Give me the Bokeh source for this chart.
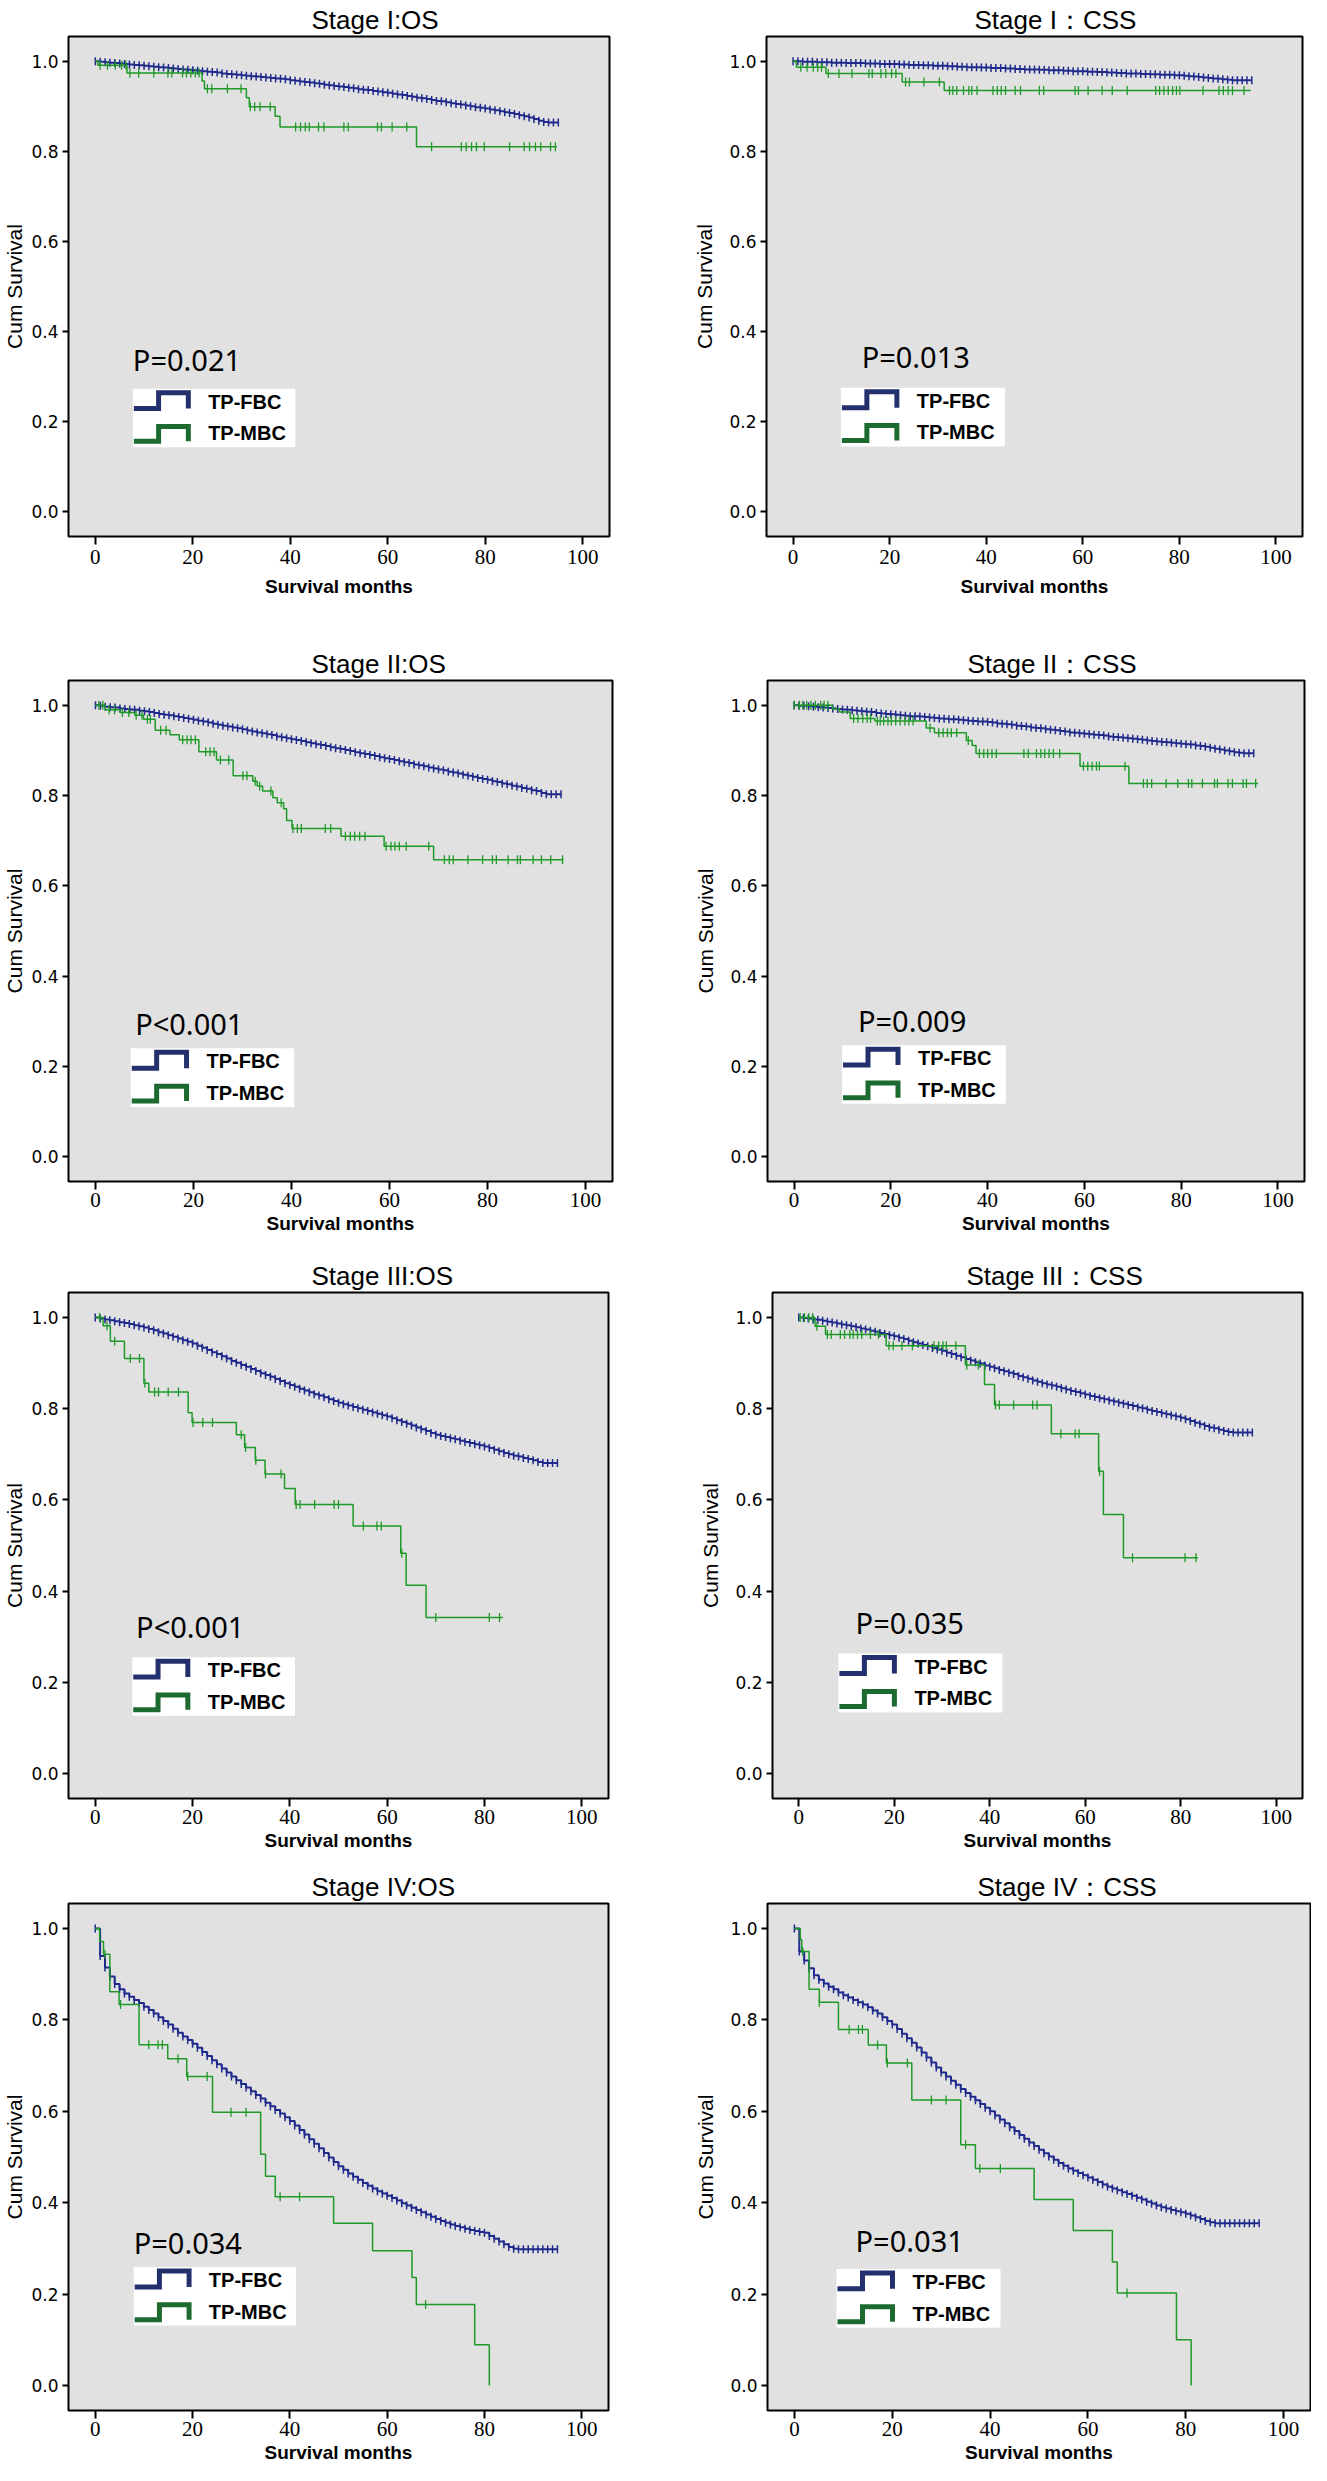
import numpy as np
from bokeh.plotting import figure
from bokeh.layouts import column, row
from bokeh.models import Range1d, Label, BoxAnnotation, FixedTicker, PrintfTickFormatter
from bokeh.embed import file_html
from bokeh.resources import INLINE

# ---------------- data ----------------
GROUPS = ["TP-FBC", "TP-MBC"]
X_TICKS = [0, 20, 40, 60, 80, 100]
Y_TICKS = [0.0, 0.2, 0.4, 0.6, 0.8, 1.0]
TITLES = ["Stage I:OS", "Stage I\uff1aCSS", "Stage II:OS", "Stage II\uff1aCSS",
          "Stage III:OS", "Stage III\uff1aCSS", "Stage IV:OS", "Stage IV\uff1aCSS"]
P_TEXTS = ["P=0.021", "P=0.013", "P<0.001", "P=0.009",
           "P<0.001", "P=0.035", "P=0.034", "P=0.031"]

# follow-up months at which the TP-FBC curve is read (one censor mark each)
FBC_MONTHS = [0, 1, 2, 3, 4, 5, 6, 7, 8, 9,
              10, 11, 12, 13, 14, 15, 16, 17, 18, 19,
              20, 21, 22, 23, 24, 25, 26, 27, 28, 29,
              30, 31, 32, 33, 34, 35, 36, 37, 38, 39,
              40, 41, 42, 43, 44, 45, 46, 47, 48, 49,
              50, 51, 52, 53, 54, 55, 56, 57, 58, 59,
              60, 61, 62, 63, 64, 65, 66, 67, 68, 69,
              70, 71, 72, 73, 74, 75, 76, 77, 78, 79,
              80, 81, 82, 83, 84, 85, 86, 87, 88, 89,
              90, 91, 92, 93, 94, 95]

FBC_I_OS = [1.000, 0.999, 0.998, 0.997, 0.996, 0.995, 0.994, 0.993, 0.992, 0.991,
            0.990, 0.989, 0.988, 0.987, 0.986, 0.985, 0.984, 0.983, 0.982, 0.981,
            0.980, 0.979, 0.978, 0.977, 0.976, 0.975, 0.973, 0.972, 0.971, 0.970,
            0.969, 0.968, 0.967, 0.966, 0.965, 0.964, 0.963, 0.962, 0.961, 0.960,
            0.958, 0.957, 0.955, 0.954, 0.953, 0.951, 0.950, 0.948, 0.947, 0.945,
            0.944, 0.943, 0.941, 0.940, 0.938, 0.937, 0.936, 0.934, 0.933, 0.931,
            0.930, 0.928, 0.926, 0.925, 0.923, 0.921, 0.919, 0.918, 0.916, 0.914,
            0.912, 0.911, 0.909, 0.907, 0.905, 0.904, 0.902, 0.900, 0.898, 0.897,
            0.895, 0.893, 0.891, 0.889, 0.887, 0.885, 0.883, 0.880, 0.878, 0.875,
            0.872, 0.868, 0.865, 0.864, 0.864, 0.864]
FBC_I_CSS = [1.000, 1.000, 0.999, 0.999, 0.999, 0.998, 0.998, 0.998, 0.997, 0.997,
             0.997, 0.996, 0.996, 0.996, 0.996, 0.995, 0.995, 0.995, 0.994, 0.994,
             0.994, 0.994, 0.993, 0.993, 0.992, 0.992, 0.992, 0.991, 0.991, 0.990,
             0.990, 0.990, 0.989, 0.989, 0.988, 0.988, 0.987, 0.987, 0.987, 0.986,
             0.986, 0.985, 0.985, 0.985, 0.984, 0.984, 0.983, 0.983, 0.982, 0.982,
             0.982, 0.981, 0.981, 0.980, 0.980, 0.980, 0.979, 0.979, 0.978, 0.978,
             0.978, 0.977, 0.977, 0.976, 0.976, 0.975, 0.975, 0.974, 0.974, 0.973,
             0.973, 0.973, 0.972, 0.972, 0.971, 0.971, 0.970, 0.970, 0.970, 0.969,
             0.969, 0.968, 0.967, 0.966, 0.965, 0.964, 0.963, 0.962, 0.961, 0.960,
             0.959, 0.958, 0.958, 0.958, 0.958, 0.958]
FBC_II_OS = [1.000, 0.999, 0.997, 0.996, 0.995, 0.993, 0.992, 0.991, 0.990, 0.988,
             0.987, 0.985, 0.983, 0.981, 0.979, 0.978, 0.976, 0.974, 0.972, 0.970,
             0.968, 0.966, 0.964, 0.962, 0.959, 0.957, 0.955, 0.953, 0.951, 0.949,
             0.947, 0.944, 0.942, 0.940, 0.938, 0.936, 0.934, 0.931, 0.929, 0.927,
             0.925, 0.923, 0.921, 0.918, 0.916, 0.914, 0.912, 0.910, 0.907, 0.905,
             0.903, 0.901, 0.899, 0.896, 0.894, 0.892, 0.890, 0.888, 0.885, 0.883,
             0.881, 0.879, 0.876, 0.874, 0.872, 0.869, 0.867, 0.865, 0.862, 0.860,
             0.858, 0.856, 0.853, 0.851, 0.849, 0.846, 0.844, 0.842, 0.839, 0.837,
             0.835, 0.832, 0.830, 0.827, 0.825, 0.822, 0.820, 0.817, 0.815, 0.812,
             0.810, 0.806, 0.803, 0.803, 0.803, 0.803]
FBC_II_CSS = [1.000, 0.999, 0.999, 0.998, 0.997, 0.996, 0.995, 0.994, 0.993, 0.992,
              0.991, 0.990, 0.989, 0.988, 0.987, 0.986, 0.985, 0.983, 0.982, 0.981,
              0.980, 0.979, 0.978, 0.977, 0.976, 0.976, 0.975, 0.974, 0.973, 0.972,
              0.971, 0.970, 0.969, 0.969, 0.968, 0.967, 0.966, 0.965, 0.964, 0.964,
              0.963, 0.962, 0.960, 0.959, 0.958, 0.957, 0.955, 0.954, 0.953, 0.951,
              0.950, 0.949, 0.947, 0.946, 0.945, 0.943, 0.942, 0.940, 0.939, 0.938,
              0.937, 0.936, 0.935, 0.934, 0.933, 0.931, 0.930, 0.929, 0.928, 0.927,
              0.926, 0.925, 0.924, 0.922, 0.921, 0.920, 0.919, 0.918, 0.917, 0.916,
              0.915, 0.914, 0.913, 0.911, 0.910, 0.908, 0.906, 0.904, 0.902, 0.900,
              0.898, 0.896, 0.895, 0.894, 0.894, 0.894]
FBC_III_OS = [1.000, 0.998, 0.996, 0.994, 0.992, 0.990, 0.988, 0.986, 0.983, 0.981,
              0.978, 0.975, 0.972, 0.968, 0.965, 0.961, 0.958, 0.954, 0.950, 0.947,
              0.943, 0.938, 0.934, 0.929, 0.924, 0.920, 0.915, 0.910, 0.905, 0.901,
              0.896, 0.892, 0.887, 0.883, 0.878, 0.874, 0.870, 0.865, 0.861, 0.856,
              0.852, 0.848, 0.844, 0.840, 0.836, 0.832, 0.829, 0.825, 0.821, 0.817,
              0.813, 0.810, 0.807, 0.804, 0.801, 0.798, 0.795, 0.792, 0.789, 0.786,
              0.783, 0.779, 0.775, 0.771, 0.767, 0.763, 0.759, 0.755, 0.751, 0.747,
              0.743, 0.740, 0.738, 0.735, 0.733, 0.730, 0.727, 0.725, 0.722, 0.720,
              0.717, 0.714, 0.710, 0.707, 0.703, 0.700, 0.697, 0.695, 0.692, 0.690,
              0.687, 0.683, 0.681, 0.681, 0.681, 0.681]
FBC_III_CSS = [1.000, 0.999, 0.998, 0.996, 0.995, 0.993, 0.991, 0.989, 0.987, 0.985,
               0.983, 0.981, 0.979, 0.976, 0.974, 0.971, 0.969, 0.966, 0.964, 0.961,
               0.959, 0.956, 0.953, 0.949, 0.946, 0.943, 0.940, 0.937, 0.933, 0.930,
               0.927, 0.923, 0.920, 0.916, 0.913, 0.909, 0.906, 0.902, 0.899, 0.895,
               0.892, 0.889, 0.885, 0.882, 0.879, 0.876, 0.872, 0.869, 0.866, 0.862,
               0.859, 0.856, 0.853, 0.851, 0.848, 0.845, 0.842, 0.839, 0.837, 0.834,
               0.831, 0.828, 0.826, 0.823, 0.821, 0.818, 0.816, 0.813, 0.811, 0.808,
               0.806, 0.803, 0.801, 0.798, 0.795, 0.793, 0.790, 0.788, 0.785, 0.783,
               0.780, 0.777, 0.773, 0.769, 0.766, 0.762, 0.759, 0.757, 0.754, 0.751,
               0.749, 0.748, 0.748, 0.748, 0.748, 0.748]
FBC_IV_OS = [1.000, 0.940, 0.915, 0.895, 0.879, 0.867, 0.858, 0.851, 0.844, 0.837,
             0.829, 0.822, 0.814, 0.806, 0.798, 0.790, 0.781, 0.772, 0.764, 0.756,
             0.748, 0.739, 0.730, 0.721, 0.712, 0.703, 0.694, 0.685, 0.676, 0.668,
             0.660, 0.652, 0.644, 0.636, 0.628, 0.619, 0.611, 0.603, 0.595, 0.587,
             0.579, 0.569, 0.559, 0.549, 0.539, 0.529, 0.519, 0.509, 0.499, 0.489,
             0.480, 0.472, 0.464, 0.457, 0.450, 0.443, 0.437, 0.431, 0.425, 0.420,
             0.415, 0.410, 0.405, 0.399, 0.394, 0.389, 0.384, 0.379, 0.374, 0.369,
             0.364, 0.360, 0.356, 0.352, 0.349, 0.346, 0.343, 0.340, 0.338, 0.336,
             0.334, 0.327, 0.321, 0.315, 0.309, 0.303, 0.299, 0.298, 0.298, 0.298,
             0.298, 0.298, 0.298, 0.298, 0.298, 0.298]
FBC_IV_CSS = [1.000, 0.950, 0.930, 0.913, 0.898, 0.888, 0.880, 0.873, 0.867, 0.860,
              0.854, 0.849, 0.844, 0.839, 0.834, 0.828, 0.821, 0.814, 0.806, 0.798,
              0.790, 0.780, 0.770, 0.760, 0.750, 0.740, 0.729, 0.718, 0.707, 0.696,
              0.685, 0.676, 0.667, 0.658, 0.649, 0.640, 0.632, 0.624, 0.616, 0.608,
              0.600, 0.591, 0.582, 0.574, 0.565, 0.557, 0.548, 0.540, 0.532, 0.524,
              0.516, 0.508, 0.501, 0.494, 0.487, 0.481, 0.475, 0.470, 0.465, 0.460,
              0.455, 0.450, 0.445, 0.440, 0.435, 0.431, 0.427, 0.423, 0.419, 0.415,
              0.411, 0.407, 0.402, 0.398, 0.394, 0.390, 0.387, 0.384, 0.381, 0.379,
              0.376, 0.372, 0.368, 0.364, 0.360, 0.357, 0.355, 0.355, 0.355, 0.355,
              0.355, 0.355, 0.355, 0.355, 0.355, 0.355]

# TP-MBC: event times (months), survival after each step, censor times
MBC_I_OS_T = [0, 0.5, 6.5, 21.9, 22.4, 31.0, 31.6, 36.9, 37.9, 65.9, 94.7]
MBC_I_OS_S = [1.0, 0.991, 0.974, 0.956, 0.939, 0.919, 0.899, 0.878, 0.854, 0.810, 0.810]
MBC_I_OS_C = [1.0, 2.5, 4.1, 5.4, 6.3, 7.1, 8.9, 12.0, 14.9, 15.7, 17.9, 18.7, 19.6, 20.5,
              21.3, 23.0, 23.9, 27.1, 29.9, 31.8, 32.7, 33.8, 35.9, 41.1, 42.1, 43.1, 43.9,
              45.8, 46.9, 51.0, 51.9, 57.9, 58.7, 60.9, 63.9, 69.0, 75.1, 76.1, 77.2, 78.2,
              79.8, 85.0, 88.0, 89.1, 90.3, 91.4, 93.4, 94.4]

MBC_I_CSS_T = [0, 0.7, 6.8, 22.6, 31.3, 94.8]
MBC_I_CSS_S = [1.0, 0.987, 0.973, 0.954, 0.935, 0.935]
MBC_I_CSS_C = [1.6, 2.9, 4.2, 5.1, 5.9, 7.3, 9.5, 12.2, 15.7, 16.4, 18.2, 19.2, 20.4, 21.3,
               23.3, 24.1, 27.1, 30.3, 32.4, 33.1, 33.9, 35.3, 36.4, 37.0, 38.1, 41.4, 42.3,
               43.1, 44.0, 46.0, 47.1, 51.0, 51.9, 58.4, 59.1, 61.1, 64.0, 66.1, 69.2, 75.1,
               75.9, 76.8, 77.7, 78.6, 79.4, 80.1, 84.9, 88.2, 89.1, 90.1, 91.0, 93.4]

MBC_II_OS_T = [0, 2.0, 5.0, 8.0, 9.8, 12.2, 15.2, 17.1, 21.1, 24.7, 28.1, 32.1, 33.0, 34.1,
               36.2, 37.1, 38.4, 39.0, 40.1, 50.1, 58.9, 69.0, 95.5]
MBC_II_OS_S = [1.0, 0.990, 0.984, 0.978, 0.969, 0.945, 0.935, 0.924, 0.897, 0.879, 0.844,
               0.832, 0.821, 0.810, 0.795, 0.784, 0.771, 0.745, 0.727, 0.710, 0.688, 0.658,
               0.658]
MBC_II_OS_C = [0.7, 1.5, 2.8, 3.9, 5.5, 6.8, 8.3, 9.5, 10.6, 11.2, 13.3, 14.4, 17.8, 18.7,
               19.5, 20.4, 22.5, 23.4, 24.2, 25.5, 27.2, 30.1, 30.9, 32.6, 33.5, 35.8, 37.9,
               40.3, 41.2, 42.0, 46.9, 48.0, 51.0, 52.0, 52.9, 53.9, 55.0, 59.3, 60.3, 61.1,
               62.0, 63.4, 68.0, 71.2, 72.2, 73.0, 76.0, 79.0, 81.0, 81.8, 84.2, 86.1, 86.7,
               89.3, 91.0, 92.9, 95.3]

MBC_II_CSS_T = [0, 7.9, 9.4, 11.6, 16.7, 27.3, 29.0, 35.6, 36.8, 37.6, 59.1, 69.2, 95.9]
MBC_II_CSS_S = [1.0, 0.992, 0.985, 0.971, 0.965, 0.950, 0.939, 0.922, 0.911, 0.893, 0.865,
                0.827, 0.827]
MBC_II_CSS_C = [0.0, 1.1, 1.8, 2.6, 3.5, 4.4, 5.5, 6.2, 7.0, 12.3, 13.2, 14.2, 15.1, 15.8,
                17.2, 17.8, 18.5, 19.4, 20.1, 21.0, 21.9, 22.9, 23.7, 24.6, 28.1, 29.9, 30.8,
                31.7, 32.5, 33.6, 36.0, 38.3, 39.2, 40.0, 40.9, 41.8, 47.5, 48.4, 50.1, 51.0,
                51.8, 52.7, 53.6, 54.9, 59.8, 60.7, 61.6, 62.5, 63.1, 68.4, 72.2, 73.0, 73.9,
                76.9, 79.3, 81.5, 82.2, 84.4, 86.9, 87.5, 89.7, 90.6, 92.8, 93.5, 95.4]

MBC_III_OS_T = [0, 1.6, 3.1, 6.0, 10.0, 11.0, 19.1, 19.9, 29.0, 30.7, 32.9, 34.9, 38.9, 41.1,
                53.0, 62.8, 63.9, 68.0, 83.8]
MBC_III_OS_S = [1.0, 0.982, 0.948, 0.910, 0.856, 0.837, 0.791, 0.770, 0.743, 0.715, 0.687,
                0.657, 0.625, 0.590, 0.543, 0.483, 0.413, 0.342, 0.342]
MBC_III_OS_C = [0.9, 2.4, 4.0, 7.2, 9.1, 10.2, 12.2, 13.0, 15.0, 17.1, 20.1, 22.1, 24.1, 30.0,
                30.9, 33.0, 35.0, 38.2, 41.3, 42.1, 45.1, 49.1, 50.0, 55.1, 57.9, 58.8, 63.0,
                70.0, 81.0, 83.1]

MBC_III_CSS_T = [0, 3.4, 5.6, 18.3, 34.9, 38.9, 41.0, 52.9, 62.8, 63.8, 68.0, 83.6]
MBC_III_CSS_S = [1.0, 0.981, 0.963, 0.938, 0.896, 0.853, 0.808, 0.745, 0.663, 0.568, 0.473,
                 0.473]
MBC_III_CSS_C = [0.3, 1.2, 2.1, 2.9, 3.8, 6.0, 6.8, 8.7, 9.6, 10.7, 11.4, 12.3, 13.2, 15.0,
                 16.7, 18.9, 19.8, 21.6, 23.8, 28.3, 29.3, 30.2, 30.9, 32.9, 35.2, 37.6, 41.2,
                 42.0, 45.0, 49.0, 49.9, 54.9, 57.9, 58.7, 63.0, 69.9, 80.9, 83.2]

MBC_IV_OS_T = [0, 0.9, 1.7, 3.0, 4.9, 9.0, 14.9, 18.8, 24.1, 34.0, 35.0, 37.0, 49.0, 57.0,
               65.1, 66.0, 78.0, 81.0]
MBC_IV_OS_S = [1.0, 0.972, 0.944, 0.862, 0.834, 0.746, 0.715, 0.676, 0.598, 0.506, 0.458,
               0.413, 0.355, 0.295, 0.236, 0.177, 0.089, 0.0]
MBC_IV_OS_C = [2.0, 5.2, 11.0, 12.9, 13.8, 17.0, 19.0, 23.0, 27.9, 31.0, 38.0, 42.0, 67.9]

MBC_IV_CSS_T = [0, 1.2, 1.5, 3.0, 5.1, 9.0, 15.1, 18.8, 24.0, 34.0, 37.0, 49.0, 57.0, 65.0,
                66.0, 78.1, 81.1]
MBC_IV_CSS_S = [1.0, 0.976, 0.950, 0.867, 0.839, 0.779, 0.745, 0.706, 0.625, 0.527, 0.475,
                0.407, 0.339, 0.270, 0.202, 0.100, 0.0]
MBC_IV_CSS_C = [1.7, 5.1, 11.2, 13.1, 13.9, 17.0, 19.0, 23.1, 28.0, 31.0, 35.0, 37.9, 42.1,
                68.0]

FBC_SERIES = [FBC_I_OS, FBC_I_CSS, FBC_II_OS, FBC_II_CSS,
              FBC_III_OS, FBC_III_CSS, FBC_IV_OS, FBC_IV_CSS]
MBC_SERIES = [(MBC_I_OS_T, MBC_I_OS_S, MBC_I_OS_C), (MBC_I_CSS_T, MBC_I_CSS_S, MBC_I_CSS_C),
              (MBC_II_OS_T, MBC_II_OS_S, MBC_II_OS_C), (MBC_II_CSS_T, MBC_II_CSS_S, MBC_II_CSS_C),
              (MBC_III_OS_T, MBC_III_OS_S, MBC_III_OS_C), (MBC_III_CSS_T, MBC_III_CSS_S, MBC_III_CSS_C),
              (MBC_IV_OS_T, MBC_IV_OS_S, MBC_IV_OS_C), (MBC_IV_CSS_T, MBC_IV_CSS_S, MBC_IV_CSS_C)]

# ---------------- layout / style ----------------
BLUE = "#1f2a8c"
GREEN = "#1f9a28"
SYM_BLUE = "#24306e"
SYM_GREEN = "#1d6a30"
BG = "#e1e1e1"
X_RANGE = (-5.5, 105.5)
Y_RANGE = (-0.055, 1.055)

# width, height, border left/right/top/bottom, title offset from frame left,
# y-label standoff, x tick-label standoff, x-label standoff
PANEL_BOX = [
    (655, 612, 63, 46, 32, 76, 243, 2, 5, 9),
    (656, 612, 111, 9, 32, 76, 208, 10, 5, 9),
    (655, 632, 66, 43, 65, 63, 243, 2, 3, 3),
    (656, 632, 112, 7, 68, 59, 200, 10, 3, 3),
    (655, 614, 64, 47, 45, 60, 243, 2, 3, 3),
    (656, 614, 117, 9, 48, 59, 194, 10, 3, 3),
    (655, 607, 62, 47, 42, 54, 243, 2, 3, 3),
    (656, 607, 112, 1, 45, 54, 210, 10, 3, 3),
]
# P-value text anchor and legend box top-left, in data units
P_POS = [(7.7, 0.339), (14.2, 0.344), (8.1, 0.295), (13.2, 0.301),
         (8.4, 0.323), (11.9, 0.331), (7.9, 0.313), (12.5, 0.317)]
LEG_POS = [(7.7, 0.273), (9.9, 0.275), (7.2, 0.240), (9.9, 0.247),
           (7.6, 0.255), (8.3, 0.263), (7.9, 0.259), (8.6, 0.255)]


def make_panel(i):
    w, h, bl, br, bt, bb, toff, ylab_so, xtick_so, xlab_so = PANEL_BOX[i]
    p = figure(width=w, height=h, output_backend="svg", toolbar_location=None,
               x_range=Range1d(*X_RANGE), y_range=Range1d(*Y_RANGE),
               min_border_left=bl, min_border_right=br,
               min_border_top=bt, min_border_bottom=bb, title=TITLES[i])
    p.title.align = "left"
    p.title.offset = toff
    p.title.text_font = "Liberation Sans"
    p.title.text_font_size = "26px"
    p.title.text_font_style = "normal"
    p.title.text_color = "black"
    p.title.standoff = 4

    fw = w - bl - br
    fh = h - bt - bb
    dx = (X_RANGE[1] - X_RANGE[0]) / fw
    dy = (Y_RANGE[1] - Y_RANGE[0]) / fh

    p.background_fill_color = BG
    p.border_fill_color = "white"
    p.outline_line_color = "black"
    p.outline_line_width = 2
    p.outline_line_alpha = 1.0
    p.grid.visible = False

    p.xaxis.ticker = FixedTicker(ticks=X_TICKS)
    p.yaxis.ticker = FixedTicker(ticks=Y_TICKS)
    p.yaxis.formatter = PrintfTickFormatter(format="%.1f")
    p.axis.minor_tick_line_color = None
    p.axis.major_tick_in = 0
    p.axis.axis_line_color = "black"
    p.axis.major_tick_line_color = "black"
    p.axis.major_tick_line_width = 2
    p.xaxis.major_tick_out = 8
    p.yaxis.major_tick_out = 6

    p.xaxis.axis_label = "Survival months"
    p.xaxis.axis_label_text_font = "Liberation Sans"
    p.xaxis.axis_label_text_font_size = "19px"
    p.xaxis.axis_label_text_font_style = "bold"
    p.xaxis.axis_label_text_color = "black"
    p.xaxis.axis_label_standoff = xlab_so
    p.xaxis.major_label_text_font = "Liberation Sans Narrow"
    p.xaxis.major_label_text_font_size = "21px"
    p.xaxis.major_label_text_color = "black"
    p.xaxis.major_label_standoff = xtick_so

    p.yaxis.axis_label = "Cum Survival"
    p.yaxis.axis_label_text_font = "Liberation Sans"
    p.yaxis.axis_label_text_font_size = "21px"
    p.yaxis.axis_label_text_font_style = "normal"
    p.yaxis.axis_label_text_color = "black"
    p.yaxis.axis_label_standoff = ylab_so
    p.yaxis.major_label_text_font = "DejaVu Sans"
    p.yaxis.major_label_text_font_size = "17px"
    p.yaxis.major_label_text_color = "black"
    p.yaxis.major_label_standoff = 4

    # TP-FBC curve
    fbc = FBC_SERIES[i]
    p.step(FBC_MONTHS, fbc, mode="after", line_color=BLUE, line_width=2)
    p.scatter(FBC_MONTHS, fbc, marker="dash", angle=np.pi / 2, size=8,
              line_color=BLUE, line_width=1.5)

    # TP-MBC curve
    mt, ms, mc = MBC_SERIES[i]
    p.step(mt, ms, mode="after", line_color=GREEN, line_width=1.5)
    idx = np.searchsorted(np.asarray(mt), np.asarray(mc), side="right") - 1
    cy = np.asarray(ms)[idx]
    p.scatter(mc, cy, marker="dash", angle=np.pi / 2, size=9,
              line_color=GREEN, line_width=1.3)

    # P value
    px, py = P_POS[i]
    p.add_layout(Label(x=px, y=py, text=P_TEXTS[i], text_font="Noto Sans",
                       text_font_size="29px", text_baseline="middle", text_color="black"))

    # legend box with step-shaped symbols
    lx, ly = LEG_POS[i]
    p.add_layout(BoxAnnotation(left=lx, right=lx + 164 * dx, top=ly, bottom=ly - 59 * dy,
                               fill_color="white", fill_alpha=1.0, line_color=None,
                               level="underlay"))
    for k, col in enumerate([SYM_BLUE, SYM_GREEN]):
        top = 4 + 34 * k
        bot = 20 + 33 * k
        xs = [lx + 1 * dx, lx + 26 * dx, lx + 26 * dx, lx + 56 * dx, lx + 56 * dx]
        ys = [ly - bot * dy, ly - bot * dy, ly - top * dy, ly - top * dy, ly - bot * dy]
        p.line(xs, ys, line_color=col, line_width=5, line_join="miter")
        p.add_layout(Label(x=lx + 76 * dx, y=ly - (13 + 32 * k) * dy, text=GROUPS[k],
                           text_font="Liberation Sans", text_font_size="20px",
                           text_font_style="bold", text_baseline="middle",
                           text_color="black"))
    return p


panels = [make_panel(i) for i in range(8)]
layout = column(row(panels[0], panels[1]), row(panels[2], panels[3]),
                row(panels[4], panels[5]), row(panels[6], panels[7]))

open("out.html", "w").write(file_html(layout, INLINE))
